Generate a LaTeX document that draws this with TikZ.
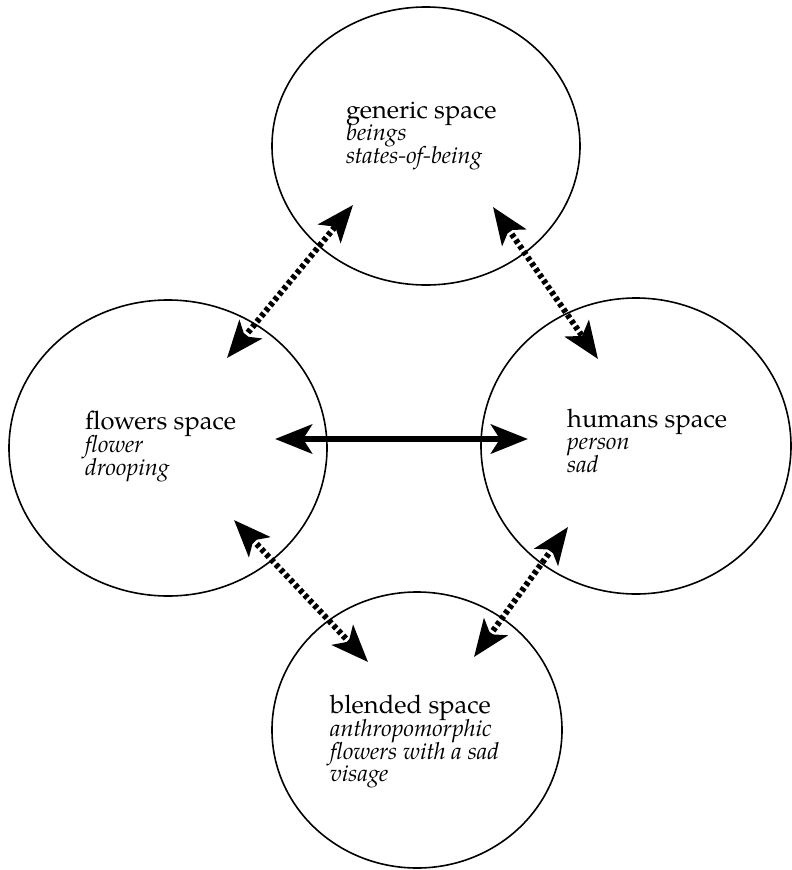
\documentclass[tikz,border=0pt]{standalone}
\usepackage{fontspec}
\setmainfont{texgyrepagella}[Extension=.otf, UprightFont=*-regular, ItalicFont=*-italic, BoldFont=*-bold, BoldItalicFont=*-bolditalic]
\usetikzlibrary{arrows.meta,shapes.geometric}
\tikzset{
  spacebox/.style={draw, ellipse, line width=1.6bp, inner sep=0pt},
  headtxt/.style={font=\fontsize{25.5bp}{23bp}\selectfont, anchor=base west, inner sep=0pt},
  itemtxt/.style={font=\fontsize{23.5bp}{23bp}\selectfont\itshape, anchor=base west, inner sep=0pt},
  tip/.tip={Stealth[length=37bp,width=29bp,inset=9bp]},
  dasharrow/.style={line width=6bp, dash pattern=on 4bp off 3bp, tip-tip},
  solidarrow/.style={line width=6.5bp, tip-tip}
}
\begin{document}
\begin{tikzpicture}[x=1bp,y=-1bp]
\useasboundingbox (0,0) rectangle (792,870);
% spaces
\node[spacebox, minimum width=308bp, minimum height=278bp] (generic) at (426,146) {};
\node[spacebox, minimum width=318bp, minimum height=296bp] (flowers) at (168,448) {};
\node[spacebox, minimum width=310bp, minimum height=296bp] (humans) at (636,446) {};
\node[spacebox, minimum width=290bp, minimum height=276bp] (blended) at (417,730) {};
% texts
\node[headtxt] (g1) at (346,118) {generic space};
\node[itemtxt] (g2) at (346,140) {beings};
\node[itemtxt] (g3) at (346,163) {states-of-being};
\node[headtxt] (f1) at (85,429) {flowers space};
\node[itemtxt] (f2) at (85,452) {flower};
\node[itemtxt] (f3) at (85,475) {drooping};
\node[headtxt] (h1) at (567,427) {humans space};
\node[itemtxt] (h2) at (567,449) {person};
\node[itemtxt] (h3) at (567,472) {sad};
\node[headtxt] (b1) at (330,713) {blended space};
\node[itemtxt] (b2) at (330,736) {anthropomorphic};
\node[itemtxt] (b3) at (330,759) {flowers with a sad};
\node[itemtxt] (b4) at (330,781) {visage};
% arrow ends
\coordinate (gfa) at (353,205);
\coordinate (gfb) at (227,358);
\coordinate (gha) at (493,207);
\coordinate (ghb) at (598,359);
\coordinate (fha) at (275,439);
\coordinate (fhb) at (528,439);
\coordinate (fba) at (234,520);
\coordinate (fbb) at (368,662);
\coordinate (hba) at (568,527);
\coordinate (hbb) at (474,657);
% connectors
\draw[dasharrow] (gfb) -- (gfa);
\draw[dasharrow] (gha) -- (ghb);
\draw[solidarrow] (fha) -- (fhb);
\draw[dasharrow] (fba) -- (fbb);
\draw[dasharrow] (hba) -- (hbb);
\end{tikzpicture}
\end{document}
